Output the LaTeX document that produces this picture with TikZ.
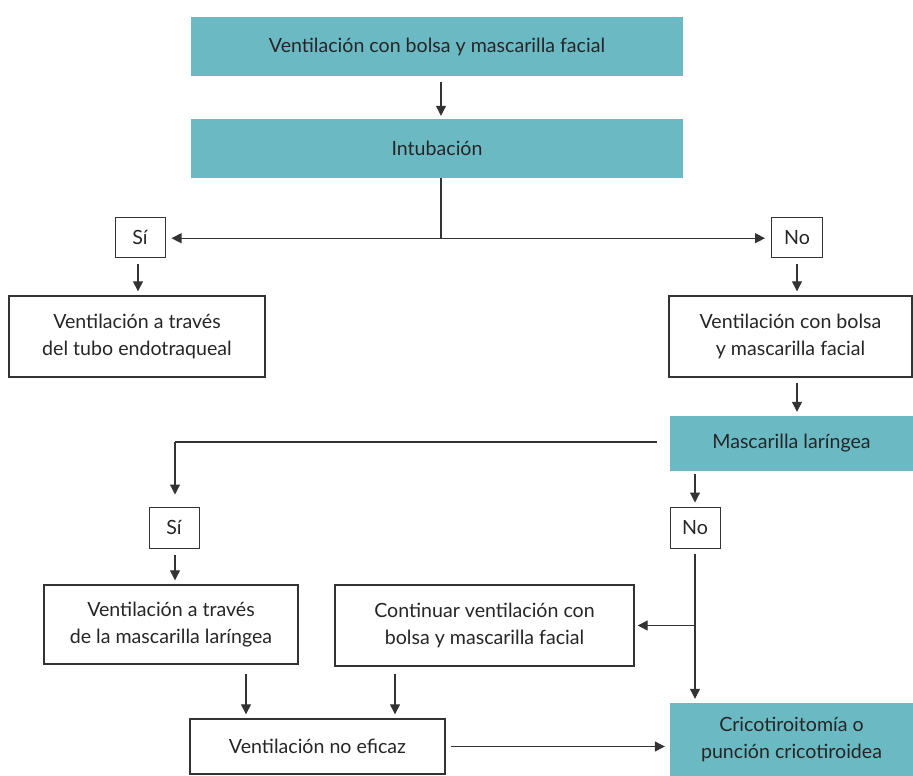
\documentclass[tikz,border=0pt]{standalone}
\usepackage{fontspec}
\setmainfont{Lato}
\usetikzlibrary{arrows.meta,calc}
\definecolor{teal1}{HTML}{6BB9C3}
\definecolor{ink}{HTML}{262626}
\definecolor{ln}{HTML}{333333}
\begin{document}
\begin{tikzpicture}[x=1pt,y=-1pt,
  box/.style={draw=ln,line width=1.4pt,fill=white,text=ink,align=center,inner sep=0pt,font=\fontsize{19.6}{26.5}\selectfont},
  tbox/.style={fill=teal1,text=ink,align=center,inner sep=0pt,font=\fontsize{19.6}{26.5}\selectfont},
  lab/.style={draw=ln,line width=1pt,fill=white,text=ink,inner sep=0pt,minimum width=50pt,minimum height=40pt,font=\fontsize{19.6}{23}\selectfont},
  arr/.style={draw=ln,line width=1.2pt,-{Triangle[length=10pt,width=10pt]}},
  ln/.style={draw=ln,line width=1.2pt}]
\useasboundingbox (0,0) rectangle (913,776);
\node[tbox,minimum width=492pt,minimum height=59pt] (b1) at (437,46.5) {Ventilación con bolsa y mascarilla facial};
\node[tbox,minimum width=492pt,minimum height=59pt] (b2) at (437,148.5) {Intubación};
\node[lab] (si1) at (140,237.5) {Sí};
\node[lab,minimum width=51pt] (no1) at (797,237.5) {No};
\node[box,minimum width=256pt,minimum height=81pt] (b3) at (137,336.5) {Ventilación a través\\del tubo endotraqueal};
\node[box,minimum width=243pt,minimum height=81pt] (b4) at (790.5,336.5) {Ventilación con bolsa\\y mascarilla facial};
\node[tbox,minimum width=243pt,minimum height=55pt] (ml) at (791.5,443.5) {Mascarilla laríngea};
\node[lab,minimum height=41pt] (si2) at (174,527.5) {Sí};
\node[lab,minimum height=41pt] (no2) at (695,527.5) {No};
\node[box,minimum width=254pt,minimum height=79pt] (b5) at (171,624.5) {Ventilación a través\\de la mascarilla laríngea};
\node[box,minimum width=299pt,minimum height=81pt] (b6) at (484.5,625.5) {Continuar ventilación con\\bolsa y mascarilla facial};
\node[box,minimum width=255pt,minimum height=55pt] (b7) at (317.5,746.5) {Ventilación no eficaz};
\node[tbox,minimum width=243pt,minimum height=73pt] (cr) at (791.5,739.5) {Cricotiroitomía o\\punción cricotiroidea};
% connectors
\draw[arr,shorten <=6pt,shorten >=3pt] ([xshift=4pt]b1.south) -- ([xshift=4pt]b2.north);
\coordinate (j1) at ($(b2.south)+(4,60)$);
\draw[ln] ([xshift=4pt]b2.south) -- (j1);
\draw[arr,shorten >=6pt] (j1) -- (j1 -| si1.east);
\draw[arr,shorten >=6pt] (j1) -- (j1 -| no1.west);
\draw[arr,shorten <=6pt,shorten >=4pt] ([xshift=-2pt]si1.south) -- ([xshift=-2pt]si1.south |- b3.north);
\draw[arr,shorten <=6pt,shorten >=4pt] (no1.south) -- (no1.south |- b4.north);
\draw[arr,shorten <=5pt,shorten >=4pt] ([xshift=6.5pt]b4.south) -- ([xshift=6.5pt]b4.south |- ml.north);
\coordinate (j2) at ($(ml.west)+(-13,-1.5)$);
\coordinate (j3) at (175,442);
\draw[ln] (j2) -- (j3);
\draw[arr,shorten >=12pt] (j3) -- (j3 |- si2.north);
\draw[arr,shorten <=6pt,shorten >=4pt] ([xshift=1pt]si2.south) -- ([xshift=1pt]si2.south |- b5.north);
\draw[arr,shorten <=3pt,shorten >=4pt] (no2.north |- ml.south) -- (no2.north);
\coordinate (j4) at ($(no2.south)+(0,77)$);
\draw[arr,shorten <=5pt,shorten >=4pt] (no2.south) -- (no2.south |- cr.north);
\draw[arr,shorten >=3pt] (j4) -- (j4 -| b6.east);
\draw[arr,shorten <=9pt,shorten >=4pt] (246,0 |- b5.south) -- (246,0 |- b7.north);
\draw[arr,shorten <=7pt,shorten >=4pt] (395,0 |- b6.south) -- (395,0 |- b7.north);
\draw[arr,shorten <=5pt,shorten >=5pt] (b7.east) -- (b7.east -| cr.west);
\end{tikzpicture}
\end{document}
